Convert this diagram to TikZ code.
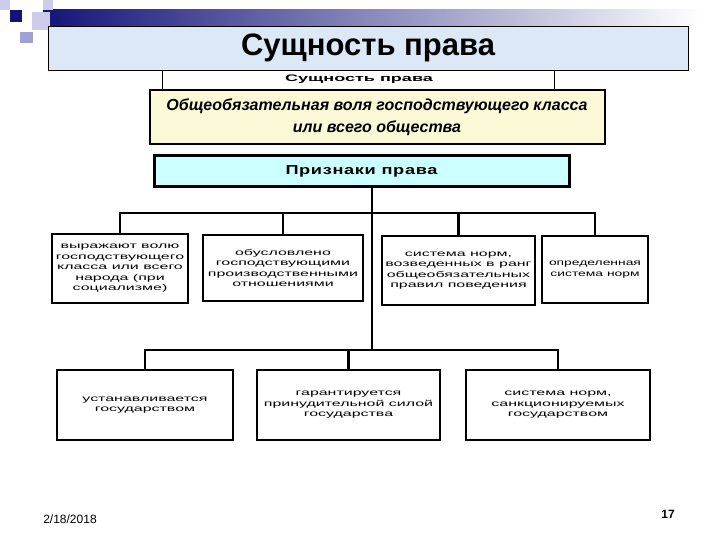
\documentclass[tikz,border=0pt]{standalone}
\usepackage{fontspec}
\setmainfont{Liberation Sans}
\newfontfamily\widefont[FakeStretch=1.9]{Liberation Sans}
\newfontfamily\midfont[FakeStretch=1.65]{Liberation Sans}
\newfontfamily\sigfont[FakeStretch=1.4, LetterSpace=5]{Liberation Sans}
\usetikzlibrary{positioning, calc}
\definecolor{deepnavy}{RGB}{20,20,120}
\definecolor{lilac}{RGB}{205,205,235}
\definecolor{midlilac}{RGB}{160,160,210}
\definecolor{titlefill}{RGB}{220,232,246}
\definecolor{lightyellow}{RGB}{252,249,214}
\definecolor{lightcyan}{RGB}{204,255,255}
\tikzset{
  ttl/.style={rectangle, draw=black, thin, fill=titlefill, minimum width=640pt,
    minimum height=44pt, font=\bfseries\fontsize{31}{34}\selectfont},
  hdr/.style={rectangle, draw=black, line width=2pt, fill=lightyellow,
    minimum width=455pt, minimum height=54pt, align=center,
    font=\bfseries\itshape\fontsize{16}{22}\selectfont},
  sig/.style={rectangle, draw=black, line width=3pt, fill=lightcyan,
    minimum width=415pt, minimum height=31pt,
    font=\sigfont\bfseries\fontsize{13}{15}\selectfont},
  card/.style={rectangle, draw=black, line width=2.5pt, fill=white, align=center,
    inner sep=2pt, font=\widefont\fontsize{8.4}{10.5}\selectfont},
  link/.style={draw=black, line width=2.5pt},
  foot/.style={font=\fontsize{12}{14}\selectfont}
}
\begin{document}
\begin{tikzpicture}[x=1pt, y=-1pt]
  \useasboundingbox (0,0) rectangle (720,540);
  % slide decoration
  \shade[left color=deepnavy, right color=white] (43,10) rectangle (700,27);
  \fill[lilac] (0,0) rectangle (10,10);
  \fill[lilac] (43,0) rectangle (53,10);
  \fill[lilac] (32,12) rectangle (50,30);
  \fill[midlilac] (20,32) rectangle (33,43);
  \fill[deepnavy] (10,10) rectangle (22,22);
  % essence boxes
  \node[rectangle, draw=black, double, line width=1pt, fill=white, minimum width=392pt,
    minimum height=30pt] (inner) at (359,75) {};
  \node[ttl] (title) at (368,48) {Сущность права};
  \node[font=\widefont\bfseries\fontsize{9.5}{12}\selectfont] (innerlbl) at (359,79) {Сущность права};
  \node[hdr] (will) at (377,117) {Общеобязательная воля господствующего класса\\или всего общества};
  \node[sig] (signs) at (361.5,171) {Признаки права};
  % first row
  \node[card, minimum width=136pt, minimum height=69pt] (r1) at (120,268.5)
    {выражают волю\\господствующего\\класса или всего\\народа (при\\социализме)};
  \node[card, minimum width=160pt, minimum height=66pt] (r2) at (283,268)
    {обусловлено\\господствующими\\производственными\\отношениями};
  \node[card, minimum width=153pt, minimum height=69pt] (r3) at (458.5,270.5)
    {система норм,\\возведенных в ранг\\общеобязательных\\правил поведения};
  \node[card, minimum width=106pt, minimum height=67pt,
    font=\midfont\fontsize{8.4}{10.5}\selectfont] (r4) at (595,269.5)
    {определенная\\система норм};
  % second row
  \node[card, minimum width=176pt, minimum height=70pt] (r5) at (145,405)
    {устанавливается\\государством};
  \node[card, minimum width=183pt, minimum height=70pt] (r6) at (348.5,405)
    {гарантируется\\принудительной силой\\государства};
  \node[card, minimum width=184pt, minimum height=70pt] (r7) at (558,405)
    {система норм,\\санкционируемых\\государством};
  % connectors
  \coordinate (top) at (372,213);
  \coordinate (bot) at (372,350);
  \draw[link] (signs.south -| top) -- (bot);
  \draw[link] (r1.north) |- (top) -| (r4.north);
  \draw[link] (r2.north) -- (r2.north |- top);
  \draw[link] (r3.north) -- (r3.north |- top);
  \draw[link] (r5.north) |- (bot) -| (r7.north);
  \draw[link] (r6.north) -- (r6.north |- bot);
  % footer
  \node[foot] (date) at (70,519) {2/18/2018};
  \node[foot, font=\bfseries\fontsize{12}{14}\selectfont] (page) at (668,514) {17};
\end{tikzpicture}
\end{document}
